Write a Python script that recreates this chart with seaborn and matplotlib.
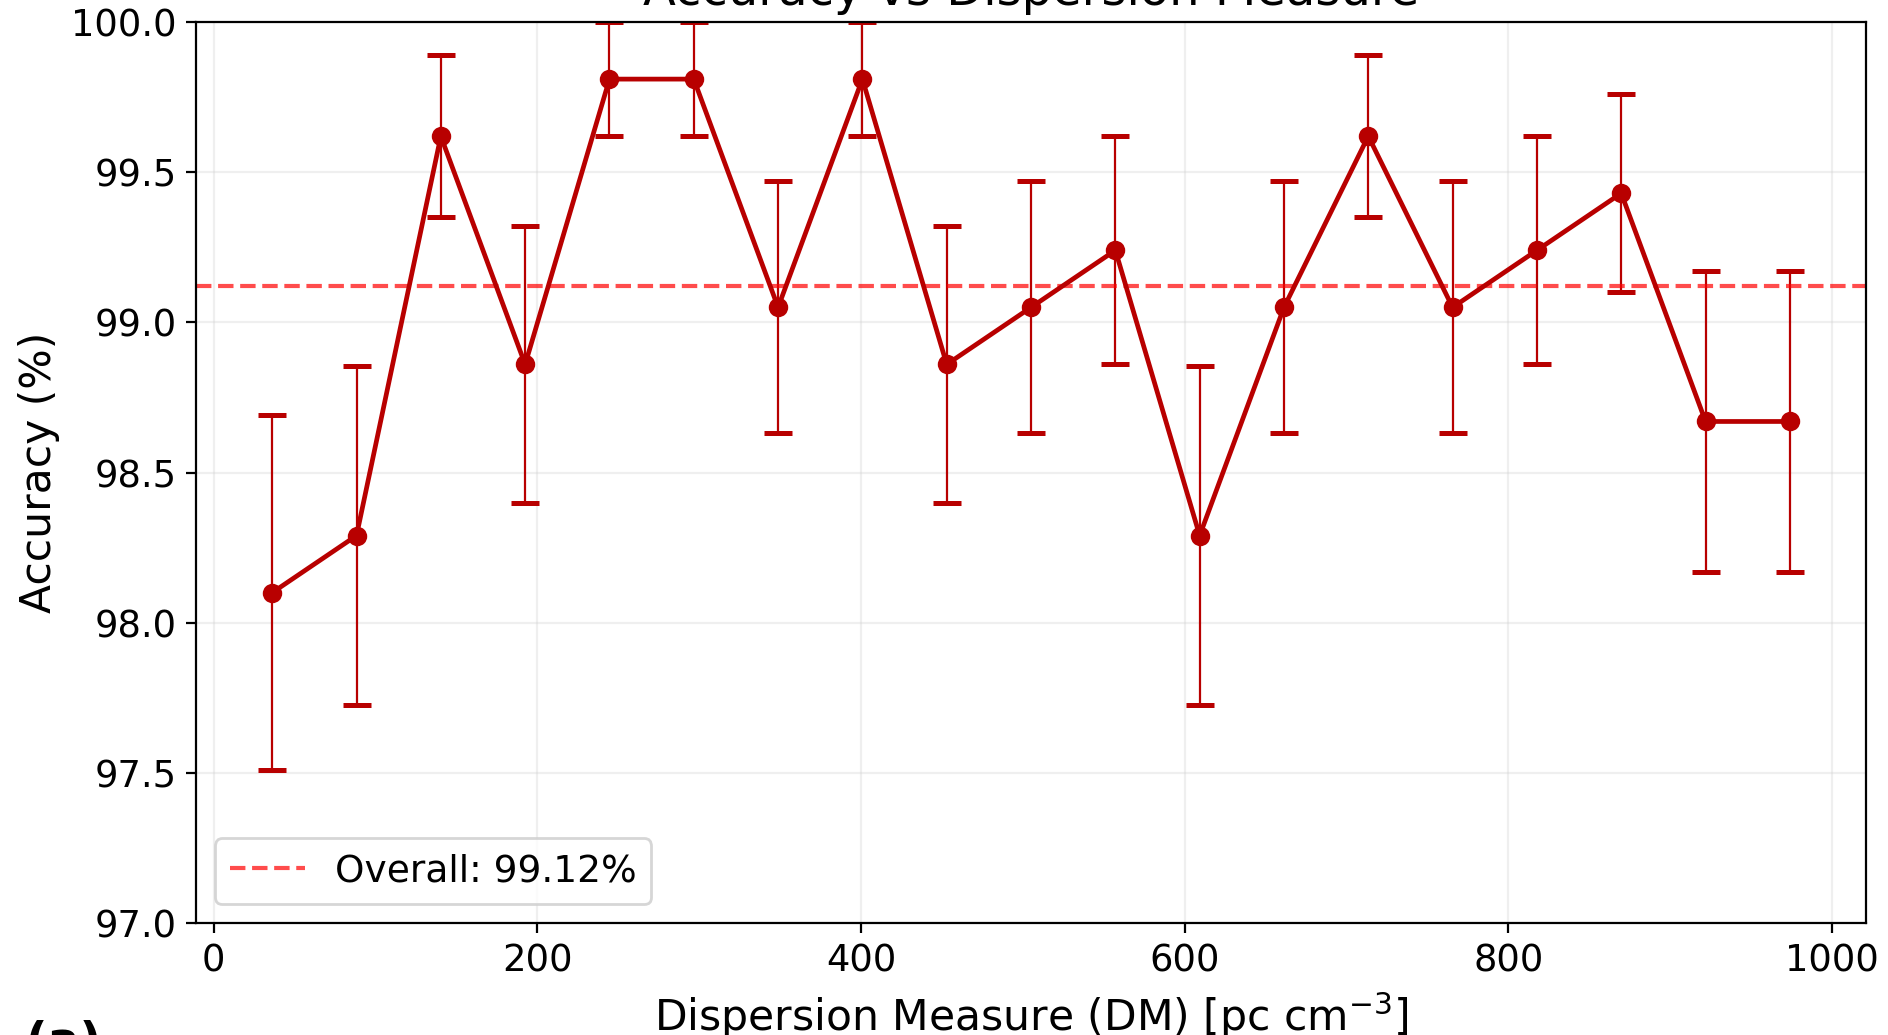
import matplotlib
matplotlib.use("Agg")
import matplotlib.pyplot as plt
import seaborn as sns
import numpy as np
import pandas as pd

# Valores
dm_centers = [36.1, 88.2, 140.3, 192.4, 244.5, 296.6, 348.7, 400.8, 452.9, 505.0,
              557.1, 609.2, 661.3, 713.4, 765.5, 817.6, 869.7, 921.8, 973.9]
accuracy = [98.10, 98.29, 99.62, 98.86, 99.81, 99.81, 99.05, 99.81, 98.86, 99.05,
            99.24, 98.29, 99.05, 99.62, 99.05, 99.24, 99.43, 98.67, 98.67]
acc_err = [0.59, 0.565, 0.27, 0.46, 0.19, 0.19, 0.42, 0.19, 0.46, 0.42,
           0.38, 0.565, 0.42, 0.27, 0.42, 0.38, 0.33, 0.50, 0.50]
overall_acc = 99.12

line_color = "#b80000"

df = pd.DataFrame({"dm": dm_centers, "acc": accuracy, "err": acc_err})

sns.set_style("ticks", {"axes.edgecolor": "black", "text.color": "black",
                        "axes.labelcolor": "black", "xtick.color": "black",
                        "ytick.color": "black"})
plt.rcParams["font.family"] = ["DejaVu Sans"]

fig = plt.figure(figsize=(9.44, 5.175), dpi=200)
ax = fig.add_axes([0.1038, 0.1082, 0.8846, 0.8705])

ax.errorbar(df["dm"], df["acc"], yerr=df["err"], fmt="none", ecolor=line_color,
            elinewidth=0.8, capsize=5, capthick=1.8, zorder=2)
sns.lineplot(data=df, x="dm", y="acc", ax=ax, color=line_color, linewidth=1.7,
             marker="o", markersize=7, markeredgewidth=0,
             markeredgecolor=line_color, zorder=3)
ax.axhline(overall_acc, color="red", linestyle="--", linewidth=1.5, alpha=0.7,
           label=f"Overall: {overall_acc:.2f}%")

ax.set_xlim(-11, 1021)
ax.set_ylim(97.0, 100.0)
ax.set_xticks(np.arange(0, 1001, 200))
ax.set_yticks(np.arange(97.0, 100.01, 0.5))
ax.tick_params(labelsize=13.3)
ax.grid(True, alpha=0.3)
ax.set_xlabel("Dispersion Measure (DM) [pc cm$^{-3}$]", fontsize=15.3)
ax.set_ylabel("Accuracy (%)", fontsize=15.3)
ax.set_title("Accuracy vs Dispersion Measure", fontsize=17.3)
ax.legend(loc="lower left", fontsize=13.5)

fig.text(0.014, 0.0145, "(a)", fontsize=17, fontweight="bold", va="top", ha="left")

fig.savefig("out.png", dpi=200)
plt.close(fig)
